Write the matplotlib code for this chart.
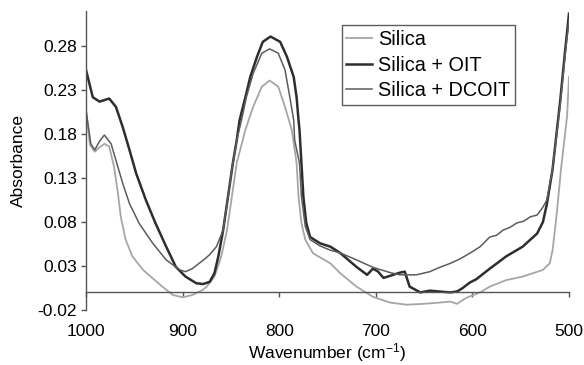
import matplotlib
matplotlib.use("Agg")
import matplotlib.pyplot as plt

plt.rcParams['font.family'] = ['Liberation Sans', 'DejaVu Sans']
plt.rcParams['mathtext.fontset'] = 'custom'
plt.rcParams['mathtext.rm'] = 'Liberation Sans'
plt.rcParams['mathtext.it'] = 'Liberation Sans:italic'

# ---- data ----
silica_wn = [1000, 996, 991, 986, 981, 976, 971, 967, 964, 959, 952, 941, 931, 921, 910,
             900, 890, 879, 875, 867, 860, 854, 849, 844, 835, 827, 818, 810, 801,
             794, 787, 782, 780, 777, 773, 765, 747, 737, 720, 703, 685, 668, 651,
             634, 623, 616, 606, 592, 582, 565, 548, 527, 520, 517, 513, 508, 502, 500]
silica_abs = [0.208, 0.168, 0.160, 0.165, 0.169, 0.166, 0.143, 0.113, 0.086, 0.060, 0.041,
              0.0256, 0.016, 0.0066, -0.003, -0.0055, -0.003, 0.003, 0.0066, 0.018, 0.041,
              0.071, 0.109, 0.147, 0.185, 0.211, 0.234, 0.241, 0.234, 0.211,
              0.185, 0.147, 0.109, 0.079, 0.060, 0.0445, 0.033, 0.022, 0.0066, -0.005,
              -0.0116, -0.014, -0.013, -0.0116, -0.0104, -0.013, -0.006, 0.0, 0.0066, 0.014,
              0.018, 0.0256, 0.033, 0.048, 0.086, 0.143, 0.200, 0.245]

oit_wn = [1000, 993, 986, 976, 969, 962, 955, 948, 938, 928, 917, 907, 897, 886, 879,
          872, 867, 863, 858, 853, 848, 844, 841, 835, 830, 823, 817, 809, 799,
          792, 785, 782, 780, 779, 777, 775, 772, 768, 758, 747, 737, 720, 709, 703,
          698, 692, 682, 675, 670, 665, 654, 644, 634, 623, 616, 610, 603, 596, 582,
          565, 548, 533, 527, 523, 517, 509, 504, 500]
oit_abs = [0.253, 0.222, 0.217, 0.2205, 0.211, 0.188, 0.162, 0.135, 0.105, 0.0785, 0.052,
           0.029, 0.018, 0.0105, 0.0095, 0.012, 0.022, 0.041, 0.071, 0.109, 0.147,
           0.173, 0.196, 0.222, 0.245, 0.268, 0.285, 0.291, 0.285, 0.268, 0.245, 0.222,
           0.196, 0.185, 0.147, 0.109, 0.079, 0.063, 0.056, 0.052, 0.045, 0.029, 0.020,
           0.027, 0.024, 0.0165, 0.020, 0.0225, 0.0236, 0.0066, 0.0, 0.002, 0.001, 0.0,
           0.001, 0.005, 0.011, 0.015, 0.027, 0.041, 0.052, 0.067, 0.080, 0.100, 0.140,
           0.219, 0.275, 0.317]

dcoit_wn = [1000, 995, 991, 986, 981, 974, 969, 962, 955, 945, 931, 917, 903, 897, 890,
            883, 876, 872, 865, 858, 853, 848, 844, 839, 834, 827, 818, 810, 801, 794,
            789, 785, 784, 779, 777, 773, 768, 758, 747, 737, 720, 703, 685, 675, 658,
            644, 635, 623, 613, 602, 592, 582, 575, 568, 561, 554, 547, 540, 533, 527,
            523, 517, 509, 504, 500]
dcoit_abs = [0.207, 0.169, 0.162, 0.172, 0.179, 0.169, 0.150, 0.124, 0.101, 0.0785, 0.056,
             0.037, 0.0256, 0.0236, 0.027, 0.033, 0.039, 0.043, 0.052, 0.071, 0.109, 0.147,
             0.173, 0.196, 0.222, 0.249, 0.272, 0.277, 0.272, 0.253, 0.222, 0.196, 0.173,
             0.147, 0.109, 0.075, 0.060, 0.053, 0.048, 0.045, 0.037, 0.0285, 0.0225, 0.020,
             0.020, 0.0236, 0.028, 0.033, 0.038, 0.045, 0.052, 0.063, 0.065, 0.071, 0.074,
             0.079, 0.081, 0.086, 0.088, 0.097, 0.105, 0.140, 0.215, 0.270, 0.310]

series_labels = ["Silica", "Silica + OIT", "Silica + DCOIT"]
y_ticks = [-0.02, 0.03, 0.08, 0.13, 0.18, 0.23, 0.28]
x_ticks = [1000, 900, 800, 700, 600, 500]

fig = plt.figure(figsize=(5.84, 3.65), dpi=100)
ax = fig.add_axes([0.1473, 0.1507, 0.827, 0.819])

ax.plot(silica_wn, silica_abs, color='#a6a6a6', lw=1.3, label=series_labels[0])
ax.plot(oit_wn, oit_abs, color='#2e2e2e', lw=1.8, label=series_labels[1])
ax.plot(dcoit_wn, dcoit_abs, color='#5c5c5c', lw=1.1, label=series_labels[2])

ax.set_xlim(1000, 500)
ax.set_ylim(-0.02, 0.32)
ax.set_yticks(y_ticks)
ax.set_yticklabels([f"{v:.2f}" for v in y_ticks])
ax.set_xticks(x_ticks)
ax.set_xticklabels([str(v) for v in x_ticks])

for s in ['top', 'right']:
    ax.spines[s].set_visible(False)
ax.spines['bottom'].set_position(('data', 0))
ax.spines['bottom'].set_color('#555555')
ax.spines['left'].set_color('#555555')
ax.spines['bottom'].set_linewidth(1.0)
ax.spines['left'].set_linewidth(1.0)

ax.tick_params(axis='y', direction='out', length=3.5, width=1, color='#555555',
               labelsize=12.5, pad=3)
ax.tick_params(axis='x', direction='out', length=3.5, width=1, color='#555555',
               labelsize=12.5, pad=19.5)

ax.set_ylabel("Absorbance", fontsize=12.5, labelpad=8)
ax.set_xlabel("Wavenumber (cm$^{-1}$)", fontsize=12.5, labelpad=1)

leg = ax.legend(loc='upper left', bbox_to_anchor=(0.585, 0.9315),
                bbox_transform=fig.transFigure, fontsize=14.3, frameon=True,
                fancybox=False, borderaxespad=0, handlelength=1.3, handletextpad=0.3,
                labelspacing=0.34, borderpad=0.24)
leg.get_frame().set_edgecolor('#333333')
leg.get_frame().set_linewidth(1.0)

fig.savefig("out.png", dpi=100)
